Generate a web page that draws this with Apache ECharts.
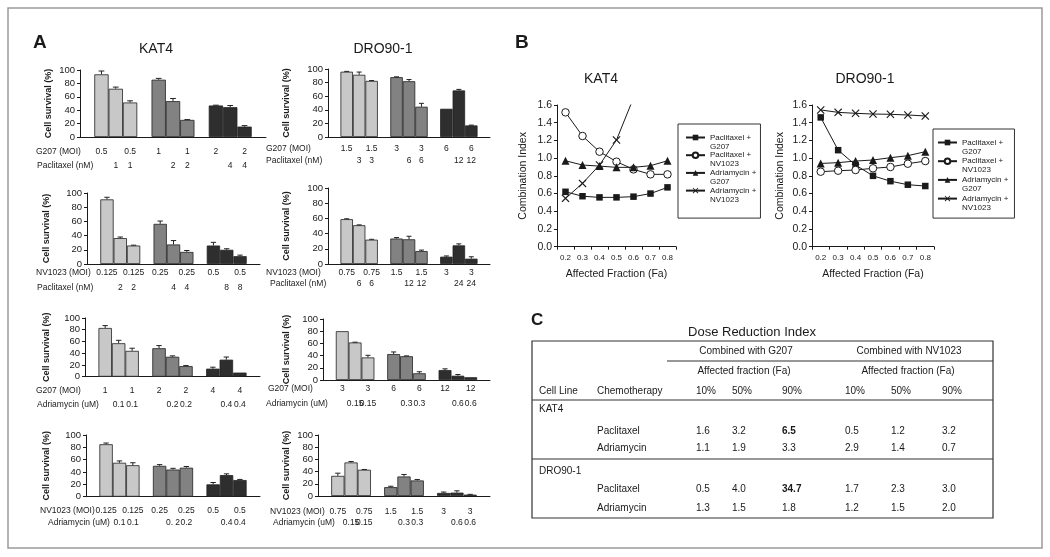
<!DOCTYPE html>
<html><head><meta charset="utf-8">
<script src="https://cdn.jsdelivr.net/npm/echarts@6/dist/echarts.min.js"></script>
<style>html,body{margin:0;padding:0;background:#fff}#c{width:1050px;height:557px}</style>
</head><body><div id="c"></div>
<script>
const FONT = "'Liberation Sans', Arial, Helvetica, sans-serif";

// ---------------- Panel A data (cell survival %, error, dose labels) ----------------
const kat4PacG207 = [93.5, 72, 51.5, 85.5, 53.5, 25.5, 47, 44.5, 15.5];
const kat4PacG207Err = [5, 2.5, 2.5, 2, 4, 0.5, 0.5, 2.5, 1.5];
const kat4PacG207Virus = ['0.5', '', '0.5', '1', '', '1', '2', '', '2'];
const kat4PacG207Drug = ['', '1', '1', '', '2', '2', '', '4', '4'];

const dro90PacG207 = [96, 91.5, 82.5, 88, 82, 44.5, 41.5, 68.5, 17];
const dro90PacG207Err = [0.5, 4, 0.5, 0.5, 2.5, 5, 0, 1.5, 0.5];
const dro90PacG207Virus = ['1.5', '', '1.5', '3', '', '3', '6', '', '6'];
const dro90PacG207Drug = ['', '3', '3', '', '6', '6', '', '12', '12'];

const kat4PacNV = [91, 36.5, 26, 56.5, 27.5, 17, 26, 20, 11];
const kat4PacNVErr = [3, 1.5, 0.5, 4, 5.5, 2, 4.5, 1.5, 1.5];
const kat4PacNVVirus = ['0.125', '', '0.125', '0.25', '', '0.25', '0.5', '', '0.5'];
const kat4PacNVDrug = ['', '2', '2', '', '4', '4', '', '8', '8'];

const dro90PacNV = [59, 51, 32, 33.5, 32.5, 17, 9.6, 24.5, 7];
const dro90PacNVErr = [0.5, 0.5, 0.5, 1.3, 4, 1.3, 1, 2, 2.5];
const dro90PacNVVirus = ['0.75', '', '0.75', '1.5', '', '1.5', '3', '', '3'];
const dro90PacNVDrug = ['', '6', '6', '', '12', '12', '', '24', '24'];

const kat4AdrG207 = [83, 57, 44, 48.5, 34, 18, 13.7, 29, 7];
const kat4AdrG207Err = [4, 5, 4.5, 4.5, 1.5, 1, 2.5, 4.5, 0];
const kat4AdrG207Virus = ['1', '', '1', '2', '', '2', '4', '', '4'];
const kat4AdrG207Drug = ['', '0.1', '0.1', '', '0.2', '0.2', '', '0.4', '0.4'];

const dro90AdrG207 = [80, 61.5, 37, 42.5, 39, 11, 16.3, 7, 4.5];
const dro90AdrG207Err = [0, 0.5, 3.5, 3.5, 0.5, 2.5, 2, 2, 0];
const dro90AdrG207Virus = ['3', '', '3', '6', '', '6', '12', '', '12'];
const dro90AdrG207Drug = ['', '0.15', '0.15', '', '0.3', '0.3', '', '0.6', '0.6'];

const kat4AdrNV = [85, 55, 51, 50, 44, 47, 20, 35, 27];
const kat4AdrNVErr = [2, 3, 4, 2, 2, 2, 3, 2, 1];
const kat4AdrNVVirus = ['0.125', '', '0.125', '0.25', '', '0.25', '0.5', '', '0.5'];
const kat4AdrNVDrug = ['', '0.1', '0.1', '', '0. 2', '0.2', '', '0.4', '0.4'];

const dro90AdrNV = [33, 55, 43, 14.5, 32, 25.5, 5, 5.5, 2.2];
const dro90AdrNVErr = [4.4, 1.5, 0.5, 1.5, 3.3, 1.6, 1.5, 3, 0.5];
const dro90AdrNVVirus = ['0.75', '', '0.75', '1.5', '', '1.5', '3', '', '3'];
const dro90AdrNVDrug = ['', '0.15', '0.15', '', '0.3', '0.3', '', '0.6', '0.6'];

// ---------------- Panel B data (combination index) ----------------
const faCategories = ['0.2', '0.3', '0.4', '0.5', '0.6', '0.7', '0.8'];
const ciSeriesNames = ['Paclitaxel +\nG207', 'Paclitaxel +\nNV1023', 'Adriamycin +\nG207', 'Adriamycin +\nNV1023'];
const kat4CiPacG207 = [0.62, 0.57, 0.557, 0.557, 0.565, 0.60, 0.67];
const kat4CiPacNV = [1.517, 1.25, 1.073, 0.96, 0.873, 0.817, 0.817];
const kat4CiAdrG207 = [0.97, 0.922, 0.91, 0.896, 0.896, 0.915, 0.97];
const kat4CiAdrNV = [0.546, 0.715, 0.922, 1.205, 1.68, null, null];
const dro90CiPacG207 = [1.46, 1.09, 0.922, 0.80, 0.74, 0.70, 0.685];
const dro90CiPacNV = [0.847, 0.858, 0.866, 0.885, 0.90, 0.937, 0.967];
const dro90CiAdrG207 = [0.94, 0.949, 0.967, 0.979, 1.005, 1.028, 1.073];
const dro90CiAdrNV = [1.544, 1.517, 1.506, 1.498, 1.495, 1.487, 1.476];

// ---------------- Panel C data (dose reduction index) ----------------
const driTitle = 'Dose Reduction Index';
const driGroups = ['Combined with G207', 'Combined with NV1023'];
const driSubHeader = 'Affected fraction (Fa)';
const driColumns = ['Cell Line', 'Chemotherapy', '10%', '50%', '90%', '10%', '50%', '90%'];
const driCellLines = ['KAT4', 'DRO90-1'];
const driChemo = ['Paclitaxel', 'Adriamycin'];
const driKAT4Paclitaxel = ['1.6', '3.2', '6.5', '0.5', '1.2', '3.2'];
const driKAT4Adriamycin = ['1.1', '1.9', '3.3', '2.9', '1.4', '0.7'];
const driDRO90Paclitaxel = ['0.5', '4.0', '34.7', '1.7', '2.3', '3.0'];
const driDRO90Adriamycin = ['1.3', '1.5', '1.8', '1.2', '1.5', '2.0'];

const panelTitles = ['KAT4', 'DRO90-1'];
const yAxisTitle = 'Cell survival (%)';

// ================= layout / styling =================
const SLOT_INDEX = [1, 2, 3, 5, 6, 7, 9, 10, 11];
const N_CATS = 13;
const GROUP_COLORS = ['#c8c8c8', '#828282', '#2e2e2e'];
const INK = '#1a1a1a';

const barCharts = [
  { v: kat4PacG207, e: kat4PacG207Err, r1: kat4PacG207Virus, r2: kat4PacG207Drug, h1: 'G207 (MOI)', h2: 'Paclitaxel (nM)' },
  { v: dro90PacG207, e: dro90PacG207Err, r1: dro90PacG207Virus, r2: dro90PacG207Drug, h1: 'G207 (MOI)', h2: 'Paclitaxel (nM)' },
  { v: kat4PacNV, e: kat4PacNVErr, r1: kat4PacNVVirus, r2: kat4PacNVDrug, h1: 'NV1023 (MOI)', h2: 'Paclitaxel (nM)' },
  { v: dro90PacNV, e: dro90PacNVErr, r1: dro90PacNVVirus, r2: dro90PacNVDrug, h1: 'NV1023 (MOI)', h2: 'Paclitaxel (nM)' },
  { v: kat4AdrG207, e: kat4AdrG207Err, r1: kat4AdrG207Virus, r2: kat4AdrG207Drug, h1: 'G207 (MOI)', h2: 'Adriamycin (uM)' },
  { v: dro90AdrG207, e: dro90AdrG207Err, r1: dro90AdrG207Virus, r2: dro90AdrG207Drug, h1: 'G207 (MOI)', h2: 'Adriamycin (uM)' },
  { v: kat4AdrNV, e: kat4AdrNVErr, r1: kat4AdrNVVirus, r2: kat4AdrNVDrug, h1: 'NV1023 (MOI)', h2: 'Adriamycin (uM)' },
  { v: dro90AdrNV, e: dro90AdrNVErr, r1: dro90AdrNVVirus, r2: dro90AdrNVDrug, h1: 'NV1023 (MOI)', h2: 'Adriamycin (uM)' }
];
const barLayout = [
  { left: 80, top: 70, w: 186, h: 67, gap: 27, margin: 7.5, lh: 14.3, hx1: 36, hx2: 37 },
  { left: 328, top: 69, w: 162, h: 68, gap: 37, margin: 5, lh: 12.4, hx1: 266, hx2: 266 },
  { left: 87, top: 193, w: 173, h: 71, gap: 36, margin: 1.5, lh: 15, hx1: 36, hx2: 37 },
  { left: 328, top: 188, w: 162, h: 76, gap: 37, margin: 3.4, lh: 10.6, hx1: 266, hx2: 270 },
  { left: 85, top: 318, w: 175, h: 58.7, gap: 34, margin: 7.2, lh: 13.6, hx1: 36, hx2: 37 },
  { left: 323, top: 319, w: 167, h: 61, gap: 32, margin: 1, lh: 15, hx1: 268, hx2: 266 },
  { left: 86, top: 435, w: 174, h: 61.7, gap: 35, margin: 8.7, lh: 11.3, hx1: 40, hx2: 48 },
  { left: 318, top: 435, w: 172, h: 61, gap: 27, margin: 9.7, lh: 11.3, hx1: 270, hx2: 273 }
];

const grids = [], xAxes = [], yAxes = [], series = [], graphics = [], legends = [];

function addText(x, y, text, opt) {
  graphics.push({
    type: 'text', x: x, y: y, silent: true,
    style: Object.assign({ text: text, fill: INK, font: '10px ' + FONT, textAlign: 'left', textVerticalAlign: 'middle' }, opt || {})
  });
}
function addLine(x1, y1, x2, y2, w) {
  graphics.push({ type: 'line', silent: true, shape: { x1: x1, y1: y1, x2: x2, y2: y2 }, style: { stroke: '#333', lineWidth: w || 1.2 } });
}

barCharts.forEach(function (c, i) {
  const L = barLayout[i];
  grids.push({ left: L.left, top: L.top, width: L.w, height: L.h, containLabel: false, outerBoundsMode: 'none' });
  xAxes.push({
    type: 'category', gridIndex: i, data: Array.from({ length: N_CATS }, function (_, k) { return 'c' + k; }),
    boundaryGap: true,
    axisLine: { show: true, lineStyle: { color: INK, width: 1 } },
    axisTick: { show: false },
    axisLabel: {
      interval: 0, margin: L.margin, lineHeight: L.lh, fontSize: 8.5, fontFamily: FONT, color: INK,
      formatter: function (val, idx) {
        const j = SLOT_INDEX.indexOf(idx);
        if (j < 0) return '';
        return (c.r1[j] || ' ') + '\n' + (c.r2[j] || ' ');
      }
    },
    splitLine: { show: false }
  });
  yAxes.push({
    type: 'value', gridIndex: i, min: 0, max: 100, interval: 20,
    name: yAxisTitle, nameLocation: 'middle', nameGap: L.gap,
    nameTextStyle: { fontSize: 9, fontWeight: 'bold', fontFamily: FONT, color: INK },
    axisLine: { show: true, lineStyle: { color: INK, width: 1 } },
    axisTick: { show: true, inside: false, length: 3, lineStyle: { color: INK } },
    axisLabel: { fontSize: 9.5, fontFamily: FONT, color: INK, margin: 5 },
    splitLine: { show: false }
  });
  const barData = new Array(N_CATS).fill('-');
  const errData = [];
  c.v.forEach(function (val, j) {
    barData[SLOT_INDEX[j]] = { value: val, itemStyle: { color: GROUP_COLORS[Math.floor(j / 3)] } };
    errData.push([SLOT_INDEX[j], val, c.e[j]]);
  });
  series.push({
    type: 'bar', xAxisIndex: i, yAxisIndex: i, data: barData, barCategoryGap: '0%',
    itemStyle: { borderColor: '#222', borderWidth: 0.8 }, silent: true
  });
  series.push({
    type: 'custom', xAxisIndex: i, yAxisIndex: i, data: errData, z: 5, silent: true,
    encode: { x: 0, y: 1 },
    renderItem: function (params, api) {
      const x = api.value(0), v = api.value(1), e = api.value(2);
      if (!(e > 0.2)) return null;
      const base = api.coord([x, v]);
      const top = api.coord([x, v + e]);
      const w = api.size([1, 0])[0] * 0.2;
      return {
        type: 'group', children: [
          { type: 'line', shape: { x1: top[0], y1: base[1], x2: top[0], y2: top[1] }, style: { stroke: '#222', lineWidth: 1 } },
          { type: 'line', shape: { x1: top[0] - w, y1: top[1], x2: top[0] + w, y2: top[1] }, style: { stroke: '#222', lineWidth: 1 } }
        ]
      };
    }
  });
  const axisY = L.top + L.h;
  addText(L.hx1, axisY + L.margin + L.lh / 2, c.h1, { font: '8.5px ' + FONT });
  addText(L.hx2, axisY + L.margin + L.lh * 1.5, c.h2, { font: '8.5px ' + FONT });
});

// ---------------- Panel B ----------------
const lineCharts = [
  { data: [kat4CiPacG207, kat4CiPacNV, kat4CiAdrG207, kat4CiAdrNV], grid: { left: 557, top: 105, width: 119, height: 141.7 }, yGap: 28,
    legend: { left: 678, top: 124, pad: [0, 4, 14, 7], gap: -9.3 } },
  { data: [dro90CiPacG207, dro90CiPacNV, dro90CiAdrG207, dro90CiAdrNV], grid: { left: 812, top: 105, width: 122, height: 141.7 }, yGap: 26,
    legend: { left: 933, top: 129, pad: [0, 6, 6, 4], gap: -8.3 } }
];
const X_PATH = 'path://M0,1L1,0L5,4L9,0L10,1L6,5L10,9L9,10L5,6L1,10L0,9L4,5Z';
const markers = [
  { symbol: 'rect', symbolSize: 6.5, color: INK },
  { symbol: 'circle', symbolSize: 7.5, color: '#fff' },
  { symbol: 'triangle', symbolSize: 8, color: INK },
  { symbol: X_PATH, symbolSize: 8, color: INK }
];
lineCharts.forEach(function (lc, k) {
  const gi = grids.length;
  grids.push(Object.assign({ containLabel: false, outerBoundsMode: 'none' }, lc.grid));
  xAxes.push({
    type: 'category', gridIndex: gi, data: faCategories, boundaryGap: true,
    name: 'Affected Fraction (Fa)', nameLocation: 'middle', nameGap: 22,
    nameTextStyle: { fontSize: 10.5, fontFamily: FONT, color: INK },
    axisLine: { lineStyle: { color: INK } },
    axisTick: { show: true, length: 3, lineStyle: { color: INK } },
    axisLabel: { fontSize: 8, fontFamily: FONT, color: INK, margin: 7, interval: 0 },
    splitLine: { show: false }
  });
  yAxes.push({
    type: 'value', gridIndex: gi, min: 0, max: 1.6, interval: 0.2,
    name: 'Combination Index', nameLocation: 'middle', nameGap: lc.yGap,
    nameTextStyle: { fontSize: 10.5, fontFamily: FONT, color: INK },
    axisLine: { show: true, lineStyle: { color: INK } },
    axisTick: { show: true, length: 3, lineStyle: { color: INK } },
    axisLabel: { fontSize: 10.5, fontFamily: FONT, color: INK, margin: 5, formatter: function (v) { return v.toFixed(1); } },
    splitLine: { show: false }
  });
  lc.data.forEach(function (arr, s) {
    series.push({
      type: 'line', name: ciSeriesNames[s], xAxisIndex: gi, yAxisIndex: gi, data: arr, clip: true,
      symbol: markers[s].symbol, symbolSize: markers[s].symbolSize, showSymbol: true, connectNulls: false,
      lineStyle: { color: INK, width: 1 },
      itemStyle: { color: markers[s].color, borderColor: INK, borderWidth: s === 1 ? 1 : 0 },
      silent: true, z: 3 + s
    });
  });
  legends.push({
    show: true, orient: 'vertical', left: lc.legend.left, top: lc.legend.top,
    data: ciSeriesNames, selectedMode: false,
    itemWidth: 19, itemHeight: 7, itemGap: lc.legend.gap,
    padding: lc.legend.pad, borderColor: '#333', borderWidth: 1,
    formatter: function (name) { return ' \n' + name; },
    textStyle: { fontSize: 8, fontFamily: FONT, color: INK, lineHeight: 9 }
  });
});

// ---------------- titles, panel letters ----------------
addText(33, 42.5, 'A', { font: 'bold 19px ' + FONT });
addText(515, 42.5, 'B', { font: 'bold 19px ' + FONT });
addText(531, 320, 'C', { font: 'bold 17px ' + FONT });
addText(156, 49.5, panelTitles[0], { font: '14px ' + FONT, textAlign: 'center' });
addText(383, 49.5, panelTitles[1], { font: '14px ' + FONT, textAlign: 'center' });
addText(601, 79, panelTitles[0], { font: '14px ' + FONT, textAlign: 'center' });
addText(865, 79, panelTitles[1], { font: '14px ' + FONT, textAlign: 'center' });

// ---------------- Panel C table ----------------
const TB = { l: 532, r: 993, t: 341, b: 518 };
graphics.push({ type: 'rect', silent: true, shape: { x: TB.l, y: TB.t, width: TB.r - TB.l, height: TB.b - TB.t }, style: { fill: 'none', stroke: '#333', lineWidth: 1.2 } });
addLine(667, 361, TB.r, 361);
addLine(TB.l, 400, TB.r, 400);
addLine(TB.l, 459, TB.r, 459);
addText(752, 332, driTitle, { font: '13px ' + FONT, textAlign: 'center' });
addText(746, 351, driGroups[0], { textAlign: 'center' });
addText(909, 351, driGroups[1], { textAlign: 'center' });
addText(744, 371, driSubHeader, { textAlign: 'center' });
addText(908, 371, driSubHeader, { textAlign: 'center' });
const colX = [539, 597, 696, 732, 782, 845, 891, 942];
driColumns.forEach(function (h, j) { addText(colX[j], 391, h); });
addText(colX[0], 409.5, driCellLines[0]);
addText(colX[0], 471, driCellLines[1]);
const driRows = [
  { y: 431, chemo: driChemo[0], vals: driKAT4Paclitaxel, bold: 2 },
  { y: 448.5, chemo: driChemo[1], vals: driKAT4Adriamycin, bold: -1 },
  { y: 489.5, chemo: driChemo[0], vals: driDRO90Paclitaxel, bold: 2 },
  { y: 508, chemo: driChemo[1], vals: driDRO90Adriamycin, bold: -1 }
];
driRows.forEach(function (row) {
  addText(colX[1], row.y, row.chemo);
  row.vals.forEach(function (v, j) {
    addText(colX[j + 2], row.y, v, j === row.bold ? { font: 'bold 10px ' + FONT } : {});
  });
});

// outer frame
graphics.push({ type: 'rect', silent: true, z: -1, shape: { x: 8, y: 8, width: 1034, height: 540 }, style: { fill: 'none', stroke: '#9a9a9a', lineWidth: 1.5 } });

const chart = echarts.init(document.getElementById('c'), null, { renderer: 'canvas' });
chart.setOption({
  animation: false,
  backgroundColor: '#fff',
  textStyle: { fontFamily: FONT },
  grid: grids, xAxis: xAxes, yAxis: yAxes, series: series, legend: legends,
  graphic: { elements: graphics }
});
</script></body></html>
